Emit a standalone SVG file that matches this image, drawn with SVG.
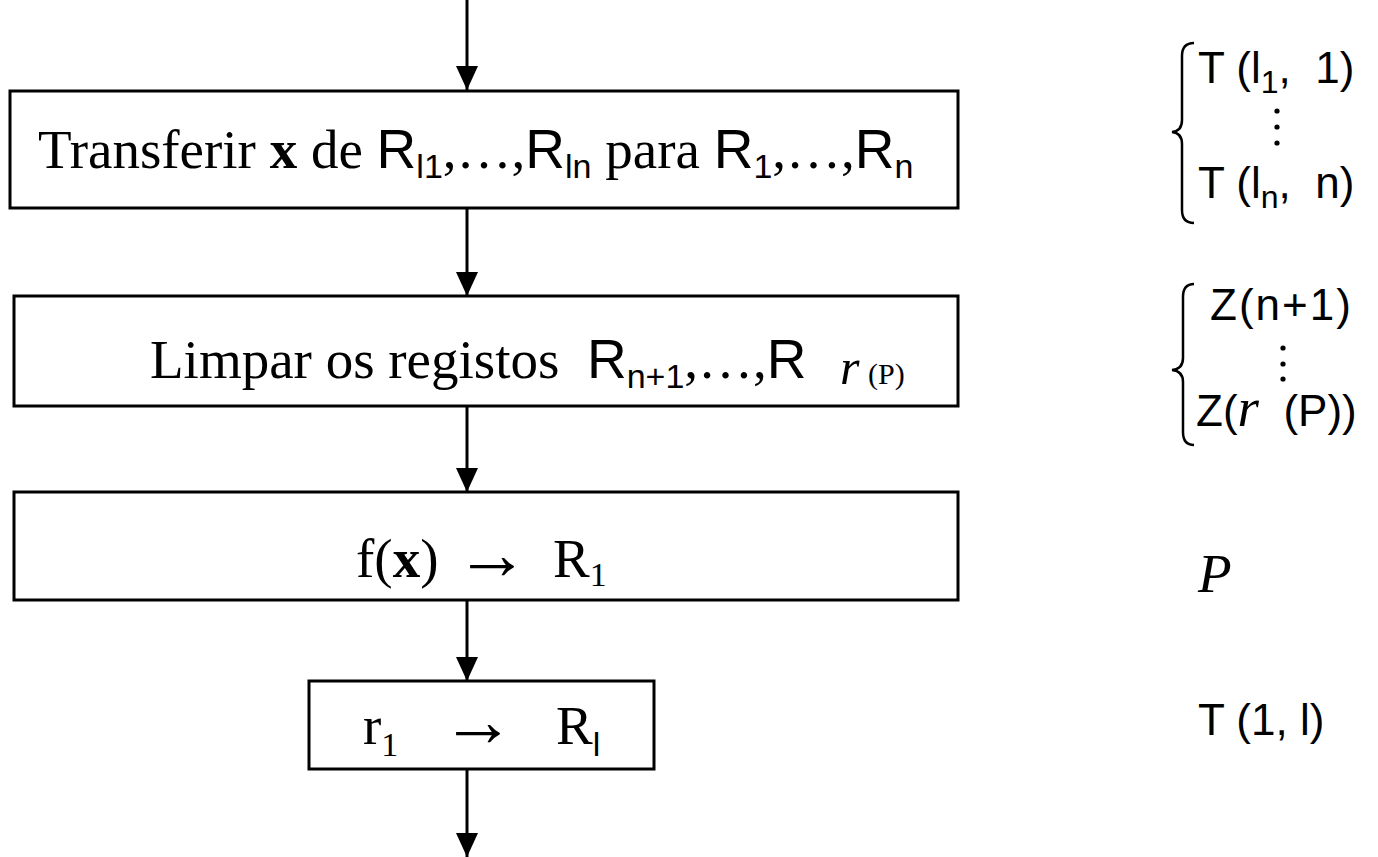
<svg xmlns="http://www.w3.org/2000/svg" width="1378" height="857" viewBox="0 0 1378 857">
  <style>
    text { white-space: pre; }
    .box { fill: #fff; stroke: #000; stroke-width: 3; }
    .conn { stroke: #000; stroke-width: 3; fill: none; }
    .brace { stroke: #000; stroke-width: 2.5; fill: none; }
    .serif { font-family: "Liberation Serif", "Times New Roman", serif; font-size: 55px; fill: #000; }
    .sans { font-family: "Liberation Sans", Arial, sans-serif; fill: #000; }
    .note { font-family: "Liberation Sans", Arial, sans-serif; font-size: 44px; fill: #000; }
    .arr { font-family: "Liberation Serif", "DejaVu Serif", serif; font-size: 74px; fill: #000; }
    .dot { fill: #000; }
  </style>
  <defs>
    <marker id="arrow" viewBox="0 0 24 22" refX="24" refY="11" markerWidth="24" markerHeight="22" markerUnits="userSpaceOnUse" orient="auto">
      <path d="M0,0 L24,11 L0,22 Z" fill="#000"/>
    </marker>
  </defs>

  <!-- flow connectors -->
  <g id="connectors">
    <line class="conn" x1="467" y1="0" x2="467" y2="90" marker-end="url(#arrow)"/>
    <line class="conn" x1="467" y1="208" x2="467" y2="296" marker-end="url(#arrow)"/>
    <line class="conn" x1="467" y1="406" x2="467" y2="492" marker-end="url(#arrow)"/>
    <line class="conn" x1="467" y1="600" x2="467" y2="681" marker-end="url(#arrow)"/>
    <line class="conn" x1="467" y1="769" x2="467" y2="857" marker-end="url(#arrow)"/>
  </g>

  <!-- step 1: transfer inputs -->
  <g id="step-transfer">
    <rect class="box" x="10" y="91" width="948" height="117"/>
    <text class="serif" x="38" y="168" font-size="56.5">Transferir <tspan font-weight="bold">x</tspan> de <tspan class="sans">R</tspan><tspan class="sans" font-size="34" dy="10">l1</tspan><tspan dy="-10">,…,</tspan><tspan class="sans">R</tspan><tspan class="sans" font-size="34" dy="10">ln</tspan><tspan dy="-10"> para </tspan><tspan class="sans">R</tspan><tspan class="sans" font-size="34" dy="10">1</tspan><tspan dy="-10">,…,</tspan><tspan class="sans">R</tspan><tspan class="sans" font-size="34" dy="10">n</tspan></text>
  </g>

  <!-- step 2: clear registers -->
  <g id="step-clear">
    <rect class="box" x="14" y="296" width="944" height="110"/>
    <text class="serif" x="150" y="378">Limpar os registos  <tspan class="sans">R</tspan><tspan class="sans" font-size="34" dy="10">n+1</tspan><tspan dy="-10">,…,</tspan><tspan class="sans">R</tspan><tspan font-style="italic" font-size="50" dy="6" x="840">r</tspan><tspan font-size="30" x="868">(P)</tspan></text>
  </g>

  <!-- step 3: run program -->
  <g id="step-run">
    <rect class="box" x="14" y="492" width="944" height="108"/>
    <text class="serif" x="356" y="577" font-size="53">f(<tspan font-weight="bold">x</tspan>)</text>
    <text class="arr" x="455" y="579">→</text>
    <text class="serif" x="553" y="577" font-size="53">R<tspan font-size="34" dy="9">1</tspan></text>
  </g>

  <!-- step 4: copy result -->
  <g id="step-copy">
    <rect class="box" x="309" y="681" width="345" height="88"/>
    <text class="serif" x="363" y="744" font-size="53">r<tspan font-size="34" dy="12">1</tspan></text>
    <text class="arr" x="441" y="746">→</text>
    <text class="serif" x="556" y="744" font-size="53">R<tspan class="sans" font-size="34" dy="12">l</tspan></text>
  </g>

  <!-- annotation: transfers -->
  <g id="note-transfer">
    <path class="brace" d="M1194,43 Q1182,43 1182,56 L1182,120 Q1182,131 1172,132 Q1182,133 1182,144 L1182,210 Q1182,223 1194,223"/>
    <text class="note" x="1198" y="83">T (l<tspan font-size="32" dy="10">1</tspan><tspan dy="-10">,  1)</tspan></text>
    <circle class="dot" cx="1277" cy="111" r="2.6"/>
    <circle class="dot" cx="1277" cy="127" r="2.6"/>
    <circle class="dot" cx="1277" cy="143" r="2.6"/>
    <text class="note" x="1198" y="198">T (l<tspan font-size="32" dy="10">n</tspan><tspan dy="-10">,  n)</tspan></text>
  </g>

  <!-- annotation: zeroing -->
  <g id="note-clear">
    <path class="brace" d="M1194,284 Q1183,284 1183,297 L1183,358 Q1183,369 1172,370 Q1183,371 1183,382 L1183,432 Q1183,445 1194,445"/>
    <text class="note" x="1210" y="320" letter-spacing="2">Z(n+1)</text>
    <circle class="dot" cx="1283" cy="348" r="2.6"/>
    <circle class="dot" cx="1283" cy="364" r="2.6"/>
    <circle class="dot" cx="1283" cy="379" r="2.6"/>
    <text class="note" x="1196" y="426">Z(<tspan class="serif" font-style="italic" font-size="46">r</tspan>  (P))</text>
  </g>

  <!-- annotation: program -->
  <g id="note-program">
    <text class="serif" x="1198" y="592" font-style="italic" font-size="58">P</text>
  </g>

  <!-- annotation: result transfer -->
  <g id="note-result">
    <text class="note" x="1198" y="735" font-size="42">T (1, l)</text>
  </g>
</svg>
